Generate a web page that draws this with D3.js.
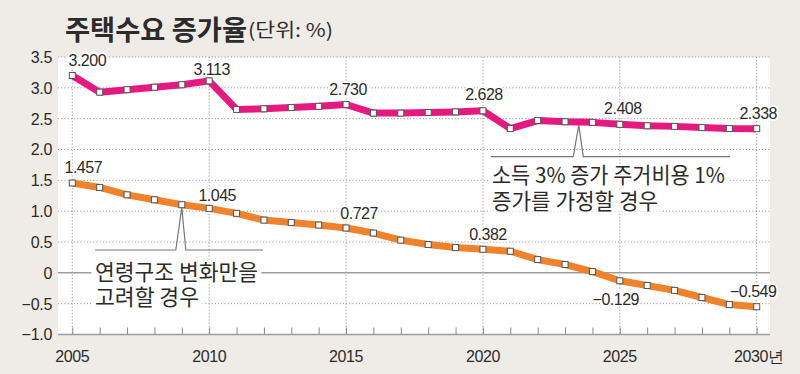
<!DOCTYPE html>
<html>
<head>
<meta charset="utf-8">
<script src="https://cdn.jsdelivr.net/npm/d3@7"></script>
<style>
  html, body { margin: 0; padding: 0; background: #efece8; }
  svg { display: block; }
  .num { font-family: "Liberation Sans", Arial, sans-serif; font-size: 16px; fill: #2b2b2b; }
  .kor { font-family: "Noto Sans CJK KR", sans-serif; fill: #2b2b2b; }
</style>
</head>
<body>
<svg id="chart" width="800" height="374"></svg>
<script>
// years on the x axis
const years = d3.range(2005, 2031);

// 소득 3% 증가 주거비용 1% 증가를 가정할 경우
const incomeCase = [
    3.200, 2.93, 2.97, 3.01, 3.05, 3.113, 2.65, 2.66, 2.68, 2.70,
    2.730, 2.59, 2.59, 2.60, 2.61, 2.628, 2.34, 2.47, 2.45, 2.44,
    2.408, 2.385, 2.375, 2.355, 2.34, 2.338
];

// 연령구조 변화만을 고려할 경우
const ageCase = [
    1.457, 1.385, 1.265, 1.185, 1.105, 1.045, 0.965, 0.855, 0.815, 0.775,
    0.727, 0.645, 0.53, 0.46, 0.41, 0.382, 0.35, 0.215, 0.135, 0.02,
    -0.129, -0.205, -0.285, -0.40, -0.515, -0.549
];

const incomeLabeled = [2005, 2010, 2015, 2020, 2025, 2030];
const ageLabeled = [2005, 2010, 2015, 2020, 2025, 2030];

const yTicks = [3.5, 3.0, 2.5, 2.0, 1.5, 1.0, 0.5, 0, -0.5, -1.0];
const xTickLabels = [2005, 2010, 2015, 2020, 2025, 2030];

const TITLE = "주택수요 증가율";
const UNIT = "(단위: %)";
const INCOME_NOTE = ["소득 3% 증가 주거비용 1%", "증가를 가정할 경우"];
const AGE_NOTE = ["연령구조 변화만을", "고려할 경우"];

const PINK = "#e5197f";
const ORANGE = "#f0822b";
const GRID = "#9a9a9a";

const svg = d3.select("#chart");

const x = d3.scaleLinear().domain([2005, 2030]).range([72.3, 756.7]);
const y = d3.scaleLinear().domain([-1, 3.5]).range([334.5, 57]);

const fmt = (v) => (v < 0 ? "\u2212" : "") + Math.abs(v).toFixed(3);
const fmtTick = (v) => (v === 0 ? "0" : (v < 0 ? "\u2212" : "") + Math.abs(v).toFixed(1));

// white plot area
svg.append("rect")
    .attr("x", 58)
    .attr("y", y(3.5))
    .attr("width", 770 - 58)
    .attr("height", y(-1) - y(3.5))
    .attr("fill", "#fff");

// title
svg.append("text")
    .attr("class", "kor")
    .attr("x", 65)
    .attr("y", 39.5)
    .attr("font-size", 27)
    .attr("font-weight", 700)
    .attr("textLength", 182)
    .attr("lengthAdjust", "spacingAndGlyphs")
    .text(TITLE);
svg.append("text")
    .attr("class", "kor")
    .attr("x", 248)
    .attr("y", 37)
    .attr("font-size", 19)
    .attr("textLength", 85)
    .attr("lengthAdjust", "spacingAndGlyphs")
    .text(UNIT);

// grid
const grid = svg.append("g");
grid.selectAll("line.h")
    .data(yTicks.filter((d) => d !== 0 && d !== -1))
    .enter()
    .append("line")
    .attr("x1", 58)
    .attr("x2", 770)
    .attr("y1", (d) => y(d))
    .attr("y2", (d) => y(d))
    .attr("stroke", GRID)
    .attr("stroke-width", 1)
    .attr("stroke-dasharray", "1.2,2");
grid.selectAll("line.v")
    .data(xTickLabels)
    .enter()
    .append("line")
    .attr("x1", (d) => x(d))
    .attr("x2", (d) => x(d))
    .attr("y1", y(3.5))
    .attr("y2", y(-1))
    .attr("stroke", GRID)
    .attr("stroke-width", 1)
    .attr("stroke-dasharray", "1.2,2");

// zero line
svg.append("line")
    .attr("x1", 58)
    .attr("x2", 770)
    .attr("y1", y(0))
    .attr("y2", y(0))
    .attr("stroke", "#9d9d9d")
    .attr("stroke-width", 1.5);

// x axis
const xAxis = d3.axisBottom(x)
    .tickValues(years)
    .tickSizeInner(-7)
    .tickSizeOuter(0)
    .tickFormat("");
const gx = svg.append("g").attr("transform", `translate(0,${y(-1)})`).call(xAxis);
gx.select(".domain").remove();
gx.selectAll(".tick line").attr("stroke", "#8a8a8a");
svg.append("line")
    .attr("x1", 58)
    .attr("x2", 770)
    .attr("y1", y(-1))
    .attr("y2", y(-1))
    .attr("stroke", "#9d9d9d")
    .attr("stroke-width", 1.5);

svg.append("g")
    .selectAll("text")
    .data(xTickLabels)
    .enter()
    .append("text")
    .attr("class", "num")
    .attr("x", (d) => x(d) + (d === 2030 ? 2 : 0))
    .attr("y", 362)
    .attr("text-anchor", "middle")
    .attr("font-size", 17)
    .attr("letter-spacing", -0.4)
    .text((d) => (d === 2030 ? d + "년" : d));

// y labels
svg.append("g")
    .selectAll("text")
    .data(yTicks)
    .enter()
    .append("text")
    .attr("class", "num")
    .attr("x", 52)
    .attr("y", (d) => y(d) + 5.9)
    .attr("text-anchor", "end")
    .attr("font-size", 16.5)
    .attr("letter-spacing", -0.3)
    .text(fmtTick);

// callout text (one text element, one tspan per line) with white boxes behind each line
const note = (lines, x0, baselines, widths) => {
    const g = svg.append("g");
    const boxes = g.append("g");
    const txt = g.append("text")
        .attr("class", "kor")
        .attr("font-size", 21.5);
    lines.forEach((t, i) => {
        txt.append("tspan")
            .attr("x", x0)
            .attr("y", baselines[i])
            .attr("textLength", widths[i])
            .attr("lengthAdjust", "spacingAndGlyphs")
            .text(t);
        boxes.append("rect")
            .attr("x", x0 - 3.5)
            .attr("y", baselines[i] - 17)
            .attr("width", widths[i] + 7)
            .attr("height", 20)
            .attr("fill", "#fff");
    });
};

note(AGE_NOTE, 95, [279.5, 305], [163, 104]);
note(INCOME_NOTE, 492, [183, 208.5], [233, 166]);

// callout leader lines
const leader = (xStart, xEnd, yBase, apexYear, series, halfL, halfR) => {
    const ax = x(apexYear);
    const i = Math.floor(apexYear - 2005);
    const f = apexYear - 2005 - i;
    const v = series[i] + (series[Math.min(i + 1, series.length - 1)] - series[i]) * f;
    const ay = y(v) + 3;
    svg.append("path")
        .attr("d", `M${xStart},${yBase}H${ax - halfL}L${ax},${ay}L${ax + halfR},${yBase}H${xEnd}`)
        .attr("fill", "none")
        .attr("stroke", "#777")
        .attr("stroke-width", 1.2);
};
leader(95, 263, 250, 2009, ageCase, 6, 4);
leader(491, 730, 156.7, 2023.5, incomeCase, 5.5, 4.5);

// series lines
const line = d3.line()
    .x((d, i) => x(years[i]))
    .y((d) => y(d));

[[incomeCase, PINK], [ageCase, ORANGE]].forEach(([s, c]) => {
    svg.append("path")
        .datum(s)
        .attr("d", line)
        .attr("fill", "none")
        .attr("stroke", c)
        .attr("stroke-width", 7)
        .attr("stroke-linejoin", "round");

    svg.append("g")
        .selectAll("rect")
        .data(s)
        .enter()
        .append("rect")
        .attr("x", (d, i) => x(years[i]) - 3)
        .attr("y", (d) => y(d) - 3)
        .attr("width", 6)
        .attr("height", 6)
        .attr("fill", "#fff")
        .attr("stroke", "#555")
        .attr("stroke-width", 1);
});

// value labels
const incomeOffsets = { 2005: [15, -15.5], 2010: [2.5, -12], 2015: [2, -15.5], 2020: [1, -17], 2025: [3, -16], 2030: [1.5, -15.5] };
const ageOffsets = { 2005: [11, -16], 2010: [8, -13], 2015: [13, -15], 2020: [5, -15], 2025: [-4, 18], 2030: [-3.5, -15.5] };

const addLabels = (series, labeled, offsets) => {
    svg.append("g")
        .selectAll("text")
        .data(labeled)
        .enter()
        .append("text")
        .attr("class", "num")
        .attr("x", (d) => x(d) + offsets[d][0])
        .attr("y", (d) => y(series[d - 2005]) + offsets[d][1] + 5.9)
        .attr("text-anchor", "middle")
        .attr("font-size", 16.5)
        .attr("letter-spacing", -0.5)
        .attr("stroke", "#fff")
        .attr("stroke-width", 4)
        .attr("stroke-linejoin", "round")
        .attr("paint-order", "stroke")
        .text((d) => fmt(series[d - 2005]));
};
addLabels(incomeCase, incomeLabeled, incomeOffsets);
addLabels(ageCase, ageLabeled, ageOffsets);
</script>
</body>
</html>
